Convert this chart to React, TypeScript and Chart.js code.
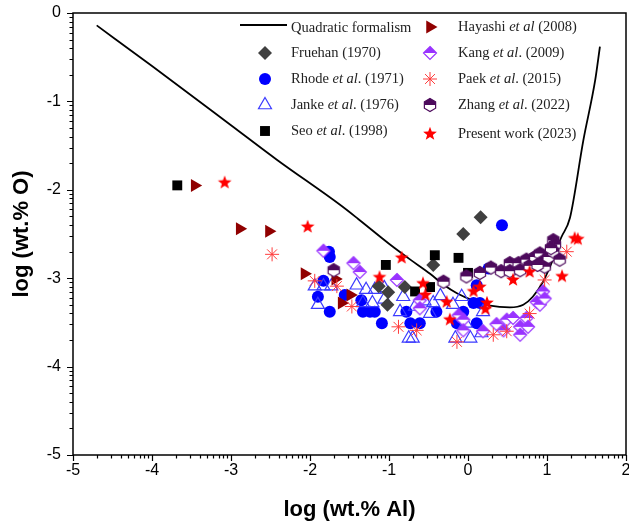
import React, { useEffect, useRef } from 'react';
import { Chart, registerables } from 'chart.js';
import { drawPoint } from 'chart.js/helpers';

Chart.register(...registerables);

// ---------- data (log wt.% Al, log wt.% O) ----------
const curveX = [-4.70, -4.0, -3.0, -2.42, -1.62, -1.39, -1.0, -0.73, -0.48, -0.30, -0.14, 0.06, 0.28, 0.53, 0.70, 0.82, 0.95, 1.08, 1.18, 1.29, 1.46, 1.61, 1.67];
const curveY = [-0.14, -0.60, -1.27, -1.66, -2.17, -2.33, -2.61, -2.79, -2.95, -3.08, -3.17, -3.25, -3.31, -3.33, -3.30, -3.21, -3.04, -2.78, -2.54, -2.32, -1.44, -0.76, -0.38];

const fruehan: [number, number][] = [[0.16, -2.31], [-0.06, -2.50], [-0.44, -2.85], [-0.80, -3.10], [-1.13, -3.09], [-1.01, -3.16], [-1.02, -3.30]];
const rhode: [number, number][] = [[0.43, -2.40], [0.26, -2.89], [-1.76, -2.70], [-1.75, -2.76], [-1.83, -3.03], [-1.90, -3.21], [-1.75, -3.38], [-1.56, -3.19], [-1.35, -3.25], [-1.33, -3.38], [-1.24, -3.38], [-1.18, -3.38], [-1.09, -3.51], [-0.78, -3.38], [-0.73, -3.51], [-0.61, -3.51], [-0.40, -3.38], [-0.06, -3.38], [-0.14, -3.51], [0.07, -3.28], [0.11, -3.08], [0.15, -3.28], [0.11, -3.51]];
const janke: [number, number][] = [[-1.94, -3.09], [-1.83, -3.09], [-1.73, -3.09], [-1.90, -3.30], [-1.41, -3.08], [-1.29, -3.13], [-1.18, -3.13], [-1.06, -3.11], [-1.33, -3.28], [-1.21, -3.28], [-1.06, -3.24], [-0.82, -3.21], [-0.86, -3.38], [-0.75, -3.68], [-0.70, -3.68], [-0.67, -3.32], [-0.44, -3.28], [-0.48, -3.40], [-0.19, -3.30], [-0.08, -3.21], [-0.03, -3.51], [-0.16, -3.68], [0.03, -3.68], [0.19, -3.38], [-0.55, -3.26], [-0.35, -3.20], [0.17, -3.62]];
const seo: [number, number][] = [[-3.68, -1.95], [-1.04, -2.85], [-0.42, -2.74], [-0.12, -2.77], [0.00, -2.94], [-0.67, -3.15], [-0.48, -3.10]];
const hayashi: [number, number][] = [[-3.46, -1.95], [-2.89, -2.44], [-2.52, -2.47], [-2.07, -2.95], [-1.68, -3.01], [-1.49, -3.19], [-1.60, -3.28]];
const kang: [number, number][] = [[-1.83, -2.69], [-1.45, -2.83], [-1.37, -2.93], [-0.90, -3.02], [-0.61, -3.25], [-0.61, -3.34], [-0.12, -3.42], [-0.06, -3.47], [-0.06, -3.59], [0.19, -3.60], [0.45, -3.59], [0.49, -3.47], [0.57, -3.45], [0.66, -3.55], [0.66, -3.64], [0.74, -3.45], [0.76, -3.55], [0.87, -3.27], [0.91, -3.30], [0.95, -3.15], [0.97, -3.23], [0.36, -3.52]];
const paek: [number, number][] = [[-2.48, -2.73], [-1.94, -3.03], [-1.66, -3.09], [-1.47, -3.32], [-0.88, -3.55], [-0.65, -3.59], [-0.14, -3.72], [0.32, -3.64], [0.49, -3.60], [0.78, -3.40], [0.97, -3.02], [1.25, -2.70]];
const zhang: [number, number][] = [[-1.70, -2.91], [-0.31, -3.04], [-0.02, -2.98], [0.15, -2.94], [0.29, -2.88], [0.42, -2.92], [0.53, -2.83], [0.53, -2.92], [0.64, -2.83], [0.66, -2.91], [0.74, -2.79], [0.78, -2.86], [0.85, -2.76], [0.91, -2.72], [0.95, -2.81], [0.97, -2.87], [1.02, -2.76], [1.08, -2.57], [1.10, -2.62], [1.08, -2.70], [1.16, -2.79], [0.88, -2.85], [1.05, -2.66]];
const present: [number, number][] = [[-3.08, -1.92], [-2.03, -2.42], [-1.12, -2.99], [-0.84, -2.77], [-0.57, -3.06], [-0.54, -3.19], [-0.27, -3.27], [-0.23, -3.47], [0.07, -3.15], [0.15, -3.10], [0.24, -3.28], [0.22, -3.35], [0.57, -3.02], [0.78, -2.93], [1.19, -2.98], [1.35, -2.55], [1.39, -2.56]];

const xTickValues = [-5, -4, -3, -2, -1, 0, 1, 2];
const yTickValues = [-5, -4, -3, -2, -1, 0];

const legendLabels: { col: number; parts: [string, boolean][] }[] = [
  { col: 0, parts: [['Quadratic formalism', false]] },
  { col: 0, parts: [['Fruehan (1970)', false]] },
  { col: 0, parts: [['Rhode ', false], ['et al', true], ['. (1971)', false]] },
  { col: 0, parts: [['Janke ', false], ['et al', true], ['. (1976)', false]] },
  { col: 0, parts: [['Seo ', false], ['et al', true], ['. (1998)', false]] },
  { col: 1, parts: [['Hayashi ', false], ['et al', true], [' (2008)', false]] },
  { col: 1, parts: [['Kang ', false], ['et al', true], ['. (2009)', false]] },
  { col: 1, parts: [['Paek ', false], ['et al', true], ['. (2015)', false]] },
  { col: 1, parts: [['Zhang ', false], ['et al', true], ['. (2022)', false]] },
  { col: 1, parts: [['Present work (2023)', false]] },
];

const toPts = (a: [number, number][]) => a.map(([x, y]) => ({ x, y }));

function makeImg(size: number, draw: (ctx: CanvasRenderingContext2D, c: number) => void) {
  const cv = document.createElement('canvas');
  cv.width = size;
  cv.height = size;
  const ctx = cv.getContext('2d')!;
  draw(ctx, size / 2);
  return cv;
}

const SANS = "'Liberation Sans', Arial, sans-serif";
const SERIF = "'Liberation Serif', 'Times New Roman', serif";

export default function App() {
  const ref = useRef<HTMLCanvasElement>(null);

  useEffect(() => {
    const KANG = '#9933ff';
    const ZHANG = '#4d0a5c';
    const kangImg = makeImg(18, (ctx, c) => {
      const r = 6.5;
      ctx.beginPath();
      ctx.moveTo(c, c - r); ctx.lineTo(c + r, c); ctx.lineTo(c, c + r); ctx.lineTo(c - r, c); ctx.closePath();
      ctx.fillStyle = '#fff'; ctx.fill();
      ctx.beginPath();
      ctx.moveTo(c, c - r); ctx.lineTo(c + r, c); ctx.lineTo(c - r, c); ctx.closePath();
      ctx.fillStyle = KANG; ctx.fill();
      ctx.beginPath();
      ctx.moveTo(c, c - r); ctx.lineTo(c + r, c); ctx.lineTo(c, c + r); ctx.lineTo(c - r, c); ctx.closePath();
      ctx.strokeStyle = KANG; ctx.lineWidth = 1.2; ctx.stroke();
    });
    const zhangImg = makeImg(18, (ctx, c) => {
      const r = 6.5;
      const w = r * Math.cos(Math.PI / 6);
      const hex = () => {
        ctx.beginPath();
        ctx.moveTo(c, c - r); ctx.lineTo(c + w, c - r / 2); ctx.lineTo(c + w, c + r / 2);
        ctx.lineTo(c, c + r); ctx.lineTo(c - w, c + r / 2); ctx.lineTo(c - w, c - r / 2); ctx.closePath();
      };
      hex(); ctx.fillStyle = '#fff'; ctx.fill();
      ctx.beginPath();
      ctx.moveTo(c, c - r); ctx.lineTo(c + w, c - r / 2); ctx.lineTo(c + w, c);
      ctx.lineTo(c - w, c); ctx.lineTo(c - w, c - r / 2); ctx.closePath();
      ctx.fillStyle = ZHANG; ctx.fill();
      hex(); ctx.strokeStyle = ZHANG; ctx.lineWidth = 1.2; ctx.stroke();
    });
    const starImg = makeImg(18, (ctx, c) => {
      const ro = 7.2, ri = 3.0;
      ctx.beginPath();
      for (let i = 0; i < 10; i++) {
        const a = -Math.PI / 2 + (i * Math.PI) / 5;
        const rr = i % 2 === 0 ? ro : ri;
        const px = c + rr * Math.cos(a), py = c + rr * Math.sin(a);
        if (i === 0) ctx.moveTo(px, py); else ctx.lineTo(px, py);
      }
      ctx.closePath();
      ctx.fillStyle = '#ff0000'; ctx.fill();
    });

    const sym = {
      fruehan: { pointStyle: 'rectRot', radius: 7, rotation: 0, fill: '#404040', stroke: '#404040', bw: 0 },
      rhode: { pointStyle: 'circle', radius: 6, rotation: 0, fill: '#0000ff', stroke: '#0000ff', bw: 0 },
      janke: { pointStyle: 'triangle', radius: 7.5, rotation: 0, fill: 'rgba(0,0,0,0)', stroke: '#3b3bff', bw: 1.2 },
      seo: { pointStyle: 'rect', radius: 7, rotation: 0, fill: '#000000', stroke: '#000000', bw: 0 },
      hayashi: { pointStyle: 'triangle', radius: 7.5, rotation: 90, fill: '#900000', stroke: '#900000', bw: 0 },
      kang: { pointStyle: kangImg, radius: 7, rotation: 0, fill: KANG, stroke: KANG, bw: 0 },
      paek: { pointStyle: 'star', radius: 7, rotation: 0, fill: '#ff3b3b', stroke: '#ff3b3b', bw: 1 },
      zhang: { pointStyle: zhangImg, radius: 7, rotation: 0, fill: ZHANG, stroke: ZHANG, bw: 0 },
      present: { pointStyle: starImg, radius: 7, rotation: 0, fill: '#ff0000', stroke: '#ff0000', bw: 0 },
    } as const;

    const ds = (label: string, data: [number, number][], s: any) => ({
      label,
      data: toPts(data),
      pointStyle: s.pointStyle,
      pointRadius: s.radius,
      pointRotation: s.rotation,
      backgroundColor: s.fill,
      borderColor: s.stroke,
      borderWidth: s.bw,
      showLine: false,
    });

    const curve = curveX.map((x, i) => ({ x, y: curveY[i] }));

    const legendSyms: any[] = [null, sym.fruehan, sym.rhode, sym.janke, sym.seo, sym.hayashi, sym.kang, sym.paek, sym.zhang, sym.present];
    const rowY0 = [28, 53, 79, 105, 131];
    const rowY1 = [27, 53, 79, 105, 134];

    const decoPlugin = {
      id: 'deco',
      afterDraw(chart: any) {
        const ctx: CanvasRenderingContext2D = chart.ctx;
        const { left, right, top, bottom } = chart.chartArea;
        const xs = chart.scales.x;
        const ys = chart.scales.y;
        ctx.save();
        ctx.strokeStyle = '#000';
        ctx.lineWidth = 1.2;
        ctx.beginPath();
        for (let i = 0; i < xTickValues.length; i++) {
          const n = xTickValues[i];
          const px = Math.round(xs.getPixelForValue(n)) + 0.5;
          ctx.moveTo(px, bottom); ctx.lineTo(px, bottom + 6);
          if (i < xTickValues.length - 1) {
            for (let k = 2; k <= 9; k++) {
              const mx = Math.round(xs.getPixelForValue(n + Math.log10(k))) + 0.5;
              ctx.moveTo(mx, bottom); ctx.lineTo(mx, bottom + 3.5);
            }
          }
        }
        for (let i = 0; i < yTickValues.length; i++) {
          const n = yTickValues[i];
          const py = Math.round(ys.getPixelForValue(n)) + 0.5;
          ctx.moveTo(left, py); ctx.lineTo(left - 6, py);
          if (i < yTickValues.length - 1) {
            for (let k = 2; k <= 9; k++) {
              const my = Math.round(ys.getPixelForValue(n + Math.log10(k))) + 0.5;
              ctx.moveTo(left, my); ctx.lineTo(left - 3.5, my);
            }
          }
        }
        ctx.stroke();
        ctx.lineWidth = 1.5;
        ctx.strokeRect(left, top, right - left, bottom - top);

        const symX = [265, 430];
        const txtX = [291, 458];
        let c0 = 0, c1 = 0;
        legendLabels.forEach((item, idx) => {
          const y = item.col === 0 ? rowY0[c0++] : rowY1[c1++];
          const s = legendSyms[idx];
          if (!s) {
            ctx.strokeStyle = '#000';
            ctx.lineWidth = 1.8;
            ctx.beginPath();
            ctx.moveTo(240, y - 3); ctx.lineTo(287, y - 3);
            ctx.stroke();
          } else {
            ctx.fillStyle = s.fill;
            ctx.strokeStyle = s.stroke;
            ctx.lineWidth = s.bw;
            drawPoint(ctx, { pointStyle: s.pointStyle, radius: s.radius, rotation: s.rotation, borderWidth: s.bw } as any, symX[item.col], y);
          }
          let tx = txtX[item.col];
          ctx.fillStyle = '#222';
          ctx.textBaseline = 'middle';
          ctx.textAlign = 'left';
          for (const [t, it] of item.parts) {
            ctx.font = `${it ? 'italic ' : ''}14.5px ${SERIF}`;
            ctx.fillText(t, tx, y);
            tx += ctx.measureText(t).width;
          }
        });
        ctx.restore();
      },
    };

    const chart = new Chart(ref.current!, {
      type: 'scatter',
      data: {
        datasets: [
          ds('Present work (2023)', present, sym.present),
          ds('Zhang et al. (2022)', zhang, sym.zhang),
          ds('Paek et al. (2015)', paek, sym.paek),
          ds('Kang et al. (2009)', kang, sym.kang),
          ds('Hayashi et al (2008)', hayashi, sym.hayashi),
          ds('Seo et al. (1998)', seo, sym.seo),
          ds('Fruehan (1970)', fruehan, sym.fruehan),
          ds('Janke et al. (1976)', janke, sym.janke),
          ds('Rhode et al. (1971)', rhode, sym.rhode),
          {
            label: 'Quadratic formalism',
            data: curve,
            showLine: true,
            pointRadius: 0,
            borderColor: '#000',
            borderWidth: 1.8,
            cubicInterpolationMode: 'monotone',
            fill: false,
          } as any,
        ] as any,
      },
      options: {
        animation: false,
        responsive: true,
        maintainAspectRatio: false,
        layout: { autoPadding: false, padding: { top: 13, right: 3, left: 0, bottom: 0 } },
        plugins: { legend: { display: false }, tooltip: { enabled: false } },
        scales: {
          x: {
            type: 'linear',
            min: -5,
            max: 2,
            ticks: { stepSize: 1, color: '#000', font: { family: SANS, size: 16 }, padding: 6 },
            grid: { display: false, drawTicks: false },
            border: { display: false },
            title: { display: true, text: 'log (wt.% Al)', color: '#000', font: { family: SANS, size: 22, weight: 'bold' }, padding: { top: 0, bottom: 6 } },
            afterFit: (s: any) => { s.height = 74; s.paddingLeft = 0; s.paddingRight = 0; },
          },
          y: {
            type: 'linear',
            min: -5,
            max: 0,
            ticks: { stepSize: 1, color: '#000', font: { family: SANS, size: 16 }, padding: 12 },
            grid: { display: false, drawTicks: false },
            border: { display: false },
            title: { display: true, text: 'log (wt.% O)', color: '#000', font: { family: SANS, size: 22, weight: 'bold' }, padding: { top: 9, bottom: 0 } },
            afterFit: (s: any) => { s.width = 73; s.paddingTop = 0; s.paddingBottom = 0; },
          },
        },
      },
      plugins: [decoPlugin],
    } as any);
    return () => chart.destroy();
  }, []);

  return (
    <div style={{ position: 'fixed', left: 0, top: 0, width: 629, height: 529, background: '#fff' }}>
      <canvas ref={ref} />
    </div>
  );
}
